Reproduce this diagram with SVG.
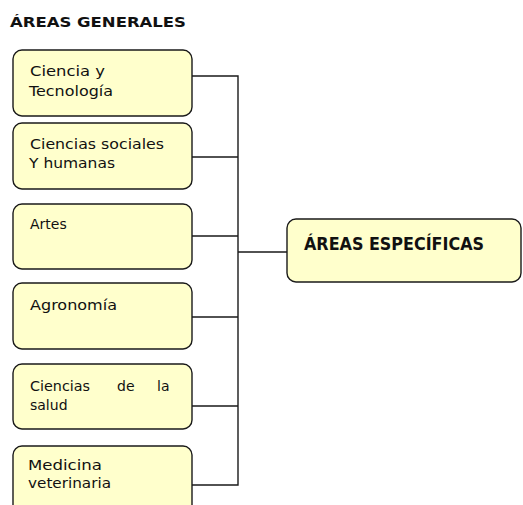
<svg xmlns="http://www.w3.org/2000/svg" width="523" height="505" viewBox="0 0 523 505">
<style>
.box{fill:#FFFFCC;stroke:#1a1a1a;stroke-width:1.4}
.t{font-family:"DejaVu Sans",sans-serif;font-size:14px;fill:#111}
.h{font-family:"DejaVu Sans",sans-serif;font-weight:bold;fill:#111}
.c{fill:none;stroke:#1a1a1a;stroke-width:1.4}
</style>
<rect width="523" height="505" fill="#fff"/>
<text class="h" x="10" y="27" font-size="14" textLength="176" lengthAdjust="spacingAndGlyphs">ÁREAS GENERALES</text>
<g id="connectors">
<path class="c" d="M192 76H238V485H192M192 157H238M192 236H238M192 317H238M192 406H238M238 252H287"/>
</g>
<g id="n1"><rect class="box" x="13" y="50" width="179" height="66" rx="9"/>
<text class="t" x="30" y="76" textLength="75" lengthAdjust="spacingAndGlyphs">Ciencia y</text>
<text class="t" x="29" y="96" textLength="84" lengthAdjust="spacingAndGlyphs">Tecnología</text></g>
<g id="n2"><rect class="box" x="13" y="123" width="179" height="66" rx="9"/>
<text class="t" x="30" y="149" textLength="134" lengthAdjust="spacingAndGlyphs">Ciencias sociales</text>
<text class="t" x="29" y="168" textLength="86" lengthAdjust="spacingAndGlyphs">Y humanas</text></g>
<g id="n3"><rect class="box" x="13" y="204" width="179" height="65" rx="9"/>
<text class="t" x="30" y="229">Artes</text></g>
<g id="n4"><rect class="box" x="13" y="283" width="179" height="66" rx="9"/>
<text class="t" x="30" y="310" textLength="87" lengthAdjust="spacingAndGlyphs">Agronomía</text></g>
<g id="n5"><rect class="box" x="13" y="364" width="179" height="65" rx="9"/>
<text class="t" x="30" y="391" textLength="60" lengthAdjust="spacingAndGlyphs">Ciencias</text>
<text class="t" x="117" y="391">de</text>
<text class="t" x="157" y="391">la</text>
<text class="t" x="30" y="410">salud</text></g>
<g id="n6"><rect class="box" x="13" y="446" width="179" height="70" rx="9"/>
<text class="t" x="28" y="470" textLength="74" lengthAdjust="spacingAndGlyphs">Medicina</text>
<text class="t" x="28" y="488" textLength="83" lengthAdjust="spacingAndGlyphs">veterinaria</text></g>
<g id="main"><rect class="box" x="287" y="219" width="234" height="63" rx="9"/>
<text class="h" x="304" y="250" font-size="18" textLength="180" lengthAdjust="spacingAndGlyphs">ÁREAS ESPECÍFICAS</text></g>
</svg>
